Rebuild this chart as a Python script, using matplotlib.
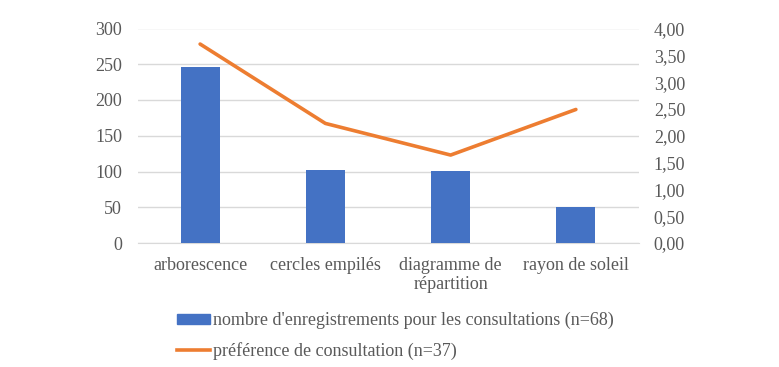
import matplotlib
matplotlib.use("Agg")
import matplotlib.pyplot as plt
from matplotlib.patches import Patch
from matplotlib.lines import Line2D
import numpy as np

plt.rcParams['font.family'] = ['Liberation Serif', 'DejaVu Serif']

categories = ["arborescence", "cercles empilés", "diagramme de\nrépartition", "rayon de soleil"]
enregistrements = [246, 102, 101, 51]
preference = [3.71, 2.23, 1.64, 2.49]
left_ticks = [0, 50, 100, 150, 200, 250, 300]
right_ticks = [0, 0.5, 1.0, 1.5, 2.0, 2.5, 3.0, 3.5, 4.0]

bar_label = "nombre d'enregistrements pour les consultations (n=68)"
line_label = "préférence de consultation (n=37)"

blue = "#4472C4"
orange = "#ED7D31"
grey_txt = "#595959"
grid_c = "#D9D9D9"

fig = plt.figure(figsize=(7.79, 3.67), dpi=100)
ax = fig.add_axes([137.5 / 779, 1 - 243 / 367, 501 / 779, 214.5 / 367])
ax2 = ax.twinx()

x = np.arange(len(categories))
ax.bar(x, enregistrements, width=0.31, color=blue, zorder=3)
ax.set_xlim(-0.5, len(categories) - 0.5)
ax.set_ylim(0, 300)
ax.set_yticks(left_ticks)
ax.set_xticks(x)
ax.set_xticklabels(categories, fontsize=13, color=grey_txt, linespacing=1.2)
ax.yaxis.grid(True, color=grid_c, linewidth=1, zorder=0)
ax.set_axisbelow(True)

ax2.plot(x, preference, color=orange, linewidth=2.6, solid_capstyle="round", zorder=4)
ax2.set_ylim(0, 4)
ax2.set_yticks(right_ticks)
ax2.set_yticklabels([f"{v:.2f}".replace(".", ",") for v in right_ticks])

for a in (ax, ax2):
    for s in a.spines.values():
        s.set_visible(False)
    a.tick_params(length=0, labelsize=13, labelcolor=grey_txt)
ax.spines['bottom'].set_visible(True)
ax.spines['bottom'].set_color(grid_c)
ax.tick_params(axis='y', pad=11)
ax2.tick_params(axis='y', pad=11)
ax.tick_params(axis='x', pad=10)

handles = [Patch(facecolor=blue, edgecolor=blue),
           Line2D([0], [0], color=orange, linewidth=2.6)]
fig.legend(handles, [bar_label, line_label], loc="upper left",
           bbox_to_anchor=(177 / 779, 1 - 312 / 367), frameon=False,
           fontsize=13, labelcolor=grey_txt, handlelength=1.8, handleheight=0.5,
           handletextpad=0.22, labelspacing=0.7, borderpad=0, borderaxespad=0)

fig.savefig("out.png", dpi=100)
